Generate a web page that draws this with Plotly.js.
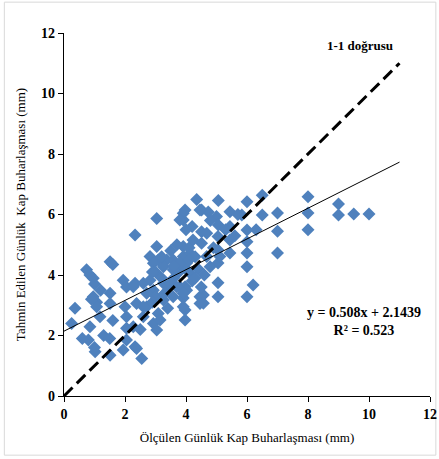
<!DOCTYPE html>
<html>
<head>
<meta charset="utf-8">
<script src="https://cdn.plot.ly/plotly-3.0.1.min.js"></script>
<style>
html,body{margin:0;padding:0;background:#fff;}
#chart{width:439px;height:459px;}
</style>
</head>
<body>
<div id="chart"></div>
<script>
// Measured (x) and predicted (y) daily pan evaporation, mm
const measured = [
  8.0, 8.0, 8.0, 9.0, 9.0, 9.5, 10.0, 7.0, 7.0, 7.0, 6.5, 6.5,
  4.35, 5.06, 6.0, 3.97, 3.91, 4.51, 4.73, 5.0, 5.44, 5.83, 6.0, 6.0, 6.0, 6.0,
  5.44, 5.44, 5.06, 5.05, 5.05, 5.05, 5.05, 5.05, 6.2, 6.0, 4.57, 4.57,
  4.51, 4.51, 4.23, 3.91, 3.91, 4.02, 4.13, 3.74, 3.58, 3.8, 3.97, 3.91,
  3.97, 3.97, 3.58, 3.48, 4.68, 4.79, 5.11, 5.44,
  3.04, 2.33, 3.91, 3.8, 4.46, 4.68, 3.04, 2.82, 3.09, 3.37, 3.26, 3.58,
  4.13, 2.33, 2.6, 2.82, 2.93, 3.26, 3.48, 3.69, 4.02, 2.38, 2.71, 2.6,
  2.93, 3.09, 3.26, 3.91, 4.46, 4.46, 2.27, 2.33, 2.55,
  1.51, 1.6, 0.74, 0.85, 0.96, 1.94, 2.05, 2.93, 2.27, 0.36, 0.25, 0.96,
  1.07, 1.07, 1.51, 1.51, 1.18, 0.85, 0.8, 1.02, 1.51, 1.94, 2.05, 2.05,
  2.05, 2.0, 2.38, 2.6, 2.71, 3.15, 3.04, 1.0, 1.3, 0.6, 1.2, 1.6, 1.5,
  3.5, 3.2, 3.7, 4.3, 4.4, 4.0, 3.6, 3.0, 3.3, 2.9, 3.4, 4.2, 4.6, 4.9,
  5.3, 5.6, 4.8, 4.2, 6.3, 5.7, 4.0, 4.1, 3.9, 3.0, 2.5, 1.0, 0.9,
  3.8, 4.1, 4.3, 3.6, 3.9, 4.5, 2.9, 3.2
];
const predicted = [
  6.59, 6.05, 5.5, 6.35, 5.98, 6.02, 6.02, 6.05, 5.45, 4.73, 6.64, 5.98,
  6.5, 6.46, 6.42, 6.15, 5.82, 6.15, 6.08, 5.93, 6.09, 5.98, 5.49, 5.1, 4.73, 4.27,
  4.73, 5.16, 5.65, 5.27, 4.83, 4.4, 3.74, 3.28, 3.67, 3.28, 3.34, 3.07,
  5.43, 5.05, 5.16, 4.94, 4.61, 4.4, 4.07, 4.07, 4.5, 3.61, 3.61, 3.24,
  2.84, 2.51, 3.28, 3.61, 4.61, 4.27, 4.61, 5.6,
  5.87, 5.32, 6.04, 5.82, 6.15, 5.38, 4.94, 4.61, 4.5, 4.5, 4.27, 4.17,
  4.72, 3.73, 3.73, 3.83, 3.5, 3.73, 3.73, 3.61, 3.5, 3.06, 2.95, 2.62,
  2.4, 2.73, 3.17, 2.95, 3.28, 3.06, 2.29, 1.63, 1.24,
  4.44, 4.35, 4.17, 4.0, 3.89, 3.83, 3.6, 4.39, 3.61, 2.9, 2.4, 3.28,
  3.1, 2.95, 3.4, 3.06, 2.62, 2.29, 1.85, 1.46, 1.35, 1.52, 1.85, 2.24,
  2.62, 2.95, 1.57, 2.95, 3.4, 2.51, 2.18, 1.6, 2.0, 1.9, 3.5, 2.5, 1.9,
  4.8, 4.6, 5.0, 4.6, 4.2, 4.2, 3.9, 3.3, 3.4, 3.1, 2.9, 3.8, 4.0, 4.9,
  5.5, 5.3, 5.8, 5.6, 5.5, 6.0, 5.5, 4.9, 4.3, 4.1, 2.2, 3.7, 3.2,
  4.4, 4.5, 3.9, 4.3, 3.4, 3.6, 4.1, 3.9
];
const lineX = [0, 11];
const slope = 0.508;
const intercept = 2.1439;
const trendY = lineX.map(v => slope * v + intercept);
const tickVals = [0, 2, 4, 6, 8, 10, 12];

const serif = "Liberation Serif, Times New Roman, serif";

const traces = [
  {
    x: measured, y: predicted, type: 'scatter', mode: 'markers',
    marker: {symbol: 'diamond', size: 10, color: '#4F81BD', line: {width: 0}},
    hoverinfo: 'none', showlegend: false
  },
  {
    x: lineX, y: lineX, type: 'scatter', mode: 'lines',
    line: {color: '#000', width: 3, dash: '12px,6px'},
    hoverinfo: 'none', showlegend: false
  },
  {
    x: lineX, y: trendY, type: 'scatter', mode: 'lines',
    line: {color: '#000', width: 1},
    hoverinfo: 'none', showlegend: false
  }
];

const axisCommon = {
  range: [0, 12], tickvals: tickVals, ticks: 'outside', ticklen: 5, tickwidth: 1,
  tickcolor: '#000', showline: true, linecolor: '#000', linewidth: 1.3,
  showgrid: false, zeroline: false,
  tickfont: {family: serif, size: 14, color: '#000', weight: 'bold'}
};

const layout = {
  width: 439, height: 459,
  margin: {l: 64, r: 9, t: 33, b: 63},
  paper_bgcolor: '#fff', plot_bgcolor: '#fff',
  xaxis: Object.assign({}, axisCommon, {
    title: {text: 'Ölçülen Günlük Kap Buharlaşması (mm)', font: {family: serif, size: 13, color: '#000'}, standoff: 11}
  }),
  yaxis: Object.assign({}, axisCommon, {
    title: {text: 'Tahmin Edilen Günlük  Kap Buharlaşması (mm)', font: {family: serif, size: 13, color: '#000'}, standoff: 12}
  }),
  annotations: [
    {x: 9.7, y: 11.6, xref: 'x', yref: 'y', text: '<b>1-1 doğrusu</b>', showarrow: false,
     font: {family: serif, size: 13, color: '#000'}},
    {x: 9.85, y: 2.45, xref: 'x', yref: 'y', text: '<b>y = 0.508x + 2.1439</b><br><b>R² = 0.523</b>', showarrow: false,
     align: 'center', font: {family: serif, size: 14, color: '#000'}}
  ],
  shapes: [
    {type: 'rect', xref: 'paper', yref: 'paper', x0: -0.163, x1: 1.016, y0: -0.163, y1: 1.085,
     line: {color: '#d9d9d9', width: 1}, fillcolor: 'rgba(0,0,0,0)', layer: 'below'}
  ]
};

Plotly.newPlot('chart', traces, layout, {displayModeBar: false, staticPlot: true});
</script>
</body>
</html>
